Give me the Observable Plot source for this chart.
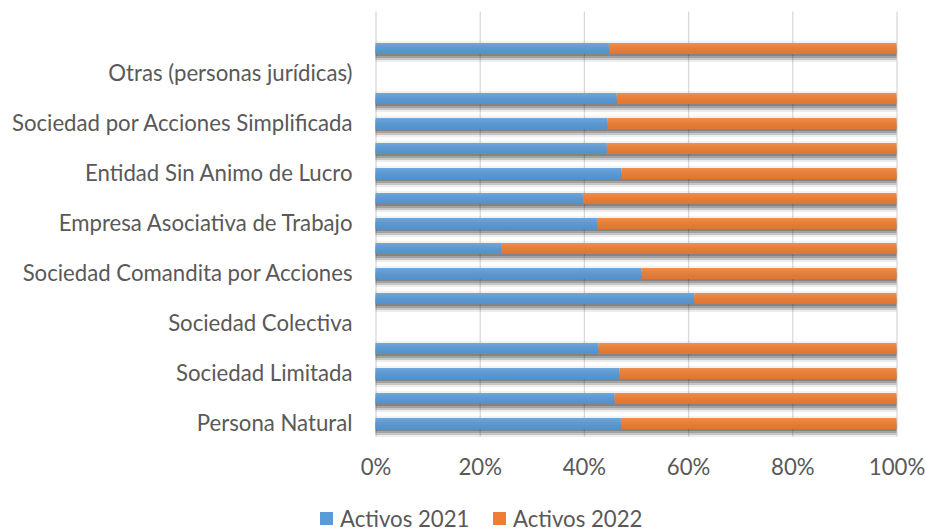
<!DOCTYPE html>
<html>
<head>
<meta charset="utf-8">
<script src="https://cdn.jsdelivr.net/npm/d3@7"></script>
<script src="https://cdn.jsdelivr.net/npm/@observablehq/plot@0.6"></script>
<style>
  html, body { margin: 0; padding: 0; background: #fff; }
  #wrap { position: relative; width: 925px; height: 531px; overflow: hidden; }
  #legend { position: absolute; left: 0; top: 505px; width: 925px; display: flex; align-items: center; color: #595959; }
  .item { display: flex; align-items: center; position: absolute; top: 0; }
  .sw { width: 13px; height: 13px; margin-right: 7px; }
</style>
</head>
<body>
<div id="wrap"><div id="chart"></div><div id="legend"></div></div>
<script>
// Categories, bottom to top (as in the source sheet); every other label is shown
const categories = [
  "Persona Natural", "Establecimiento de Comercio", "Sociedad Limitada", "Sociedad Anónima",
  "Sociedad Colectiva", "Sociedad Comandita Simple", "Sociedad Comandita por Acciones", "Empresa Unipersonal",
  "Empresa Asociativa de Trabajo", "Sucursal de Sociedad Extranjera", "Entidad Sin Animo de Lucro", "Entidad de Economía Solidaria",
  "Sociedad por Acciones Simplificada", "Sociedad Agraria de Transformación", "Otras (personas jurídicas)", "Total", ""
];
const shownLabels = [
  "Persona Natural", "Sociedad Limitada", "Sociedad Colectiva", "Sociedad Comandita por Acciones",
  "Empresa Asociativa de Trabajo", "Entidad Sin Animo de Lucro", "Sociedad por Acciones Simplificada", "Otras (personas jurídicas)"
];
const seriesNames = ["Activos 2021", "Activos 2022"];
// Shares (%)
const activos2021 = [47.1, 45.9, 46.8, 42.8, null, 61.2, 51.1, 24.1, 42.5, 39.8, 47.2, 44.4, 44.5, 46.3, null, 44.8, null];
const activos2022 = [52.9, 54.1, 53.2, 57.2, null, 38.8, 48.9, 75.9, 57.5, 60.2, 52.8, 55.6, 55.5, 53.7, null, 55.2, null];
const xTicks = [0, 0.2, 0.4, 0.6, 0.8, 1];
const seriesColors = ["#5A9BD8", "#EF7E33"];

const rows = [];
categories.forEach((c, i) => {
  [activos2021, activos2022].forEach((arr, s) => {
    if (arr[i] != null) rows.push({category: c, series: seriesNames[s], value: arr[i]});
  });
});

// font fit (Calibri-like width)
const FONT = "Lato";
const cv = document.createElement("canvas").getContext("2d");
cv.font = `100px ${FONT}`;
const fs = Math.round(100 * 342 / cv.measureText("Sociedad por Acciones Simplificada").width * 10) / 10;

const stackOpts = {offset: "normalize", x: "value", y: "category"};
const shadowLayers = [
  {dy: -2, op: 0.05}, {dy: 2, op: 0.18}, {dy: 4, op: 0.18}, {dy: 6, op: 0.16}, {dy: 8, op: 0.07}
];
const W = 925, H = 500;
const chart = Plot.plot({
  width: W, height: H,
  marginLeft: 375.5, marginRight: 28.5, marginTop: 11.5, marginBottom: H - 436.5,
  style: {fontFamily: FONT, fontSize: fs + "px", color: "#595959", background: "#fff"},
  x: {domain: [0, 1], ticks: xTicks, tickFormat: d3.format(".0%"), tickSize: 0, tickPadding: 22.5, label: null},
  y: {domain: categories.slice().reverse(), paddingInner: 0.56, paddingOuter: 0.28, tickSize: 0, tickPadding: 23.5, label: null,
      tickFormat: d => shownLabels.includes(d) ? d : ""},
  color: {domain: seriesNames, range: seriesColors},
  marks: [
    Plot.ruleX(xTicks, {stroke: "#d9d9d9", strokeWidth: 1.3}),
    // soft drop shadow below each bar (layered translucent copies)
    ...shadowLayers.map(l => Plot.barX(rows, Plot.stackX({...stackOpts, fill: "#000", fillOpacity: l.op, dy: l.dy}))),
    Plot.barX(rows, Plot.stackX({...stackOpts, fill: "series"}))
  ]
});
document.getElementById("chart").appendChild(chart);

// subtle vertical sheen on the bars (lighter top)
const ns = "http://www.w3.org/2000/svg";
const defs = document.createElementNS(ns, "defs");
defs.innerHTML = `
  <linearGradient id="sheen" x1="0" y1="0" x2="0" y2="1">
    <stop offset="0" stop-color="#fff" stop-opacity="0.12"/>
    <stop offset="1" stop-color="#000" stop-opacity="0.06"/>
  </linearGradient>`;
chart.insertBefore(defs, chart.firstChild);
const bars = chart.querySelectorAll('g[aria-label="bar"]');
const mainBars = bars[bars.length - 1];
if (mainBars) {
  const overlay = document.createElementNS(ns, "g");
  mainBars.querySelectorAll("rect").forEach(r => {
    const c = r.cloneNode();
    c.setAttribute("fill", "url(#sheen)");
    overlay.appendChild(c);
  });
  mainBars.parentNode.insertBefore(overlay, mainBars.nextSibling);
}

// legend
const leg = document.getElementById("legend");
const lx = [320, 493];
seriesNames.forEach((n, i) => {
  const it = document.createElement("div");
  it.className = "item";
  it.style.left = lx[i] + "px";
  it.style.fontFamily = FONT;
  it.style.fontSize = fs + "px";
  it.innerHTML = `<div class="sw" style="background:${seriesColors[i]}"></div><span>${n}</span>`;
  leg.appendChild(it);
});
</script>
</body>
</html>
